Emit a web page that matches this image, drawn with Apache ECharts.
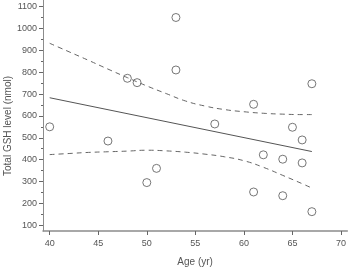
<!DOCTYPE html>
<html>
<head>
<meta charset="utf-8">
<script src="https://cdn.jsdelivr.net/npm/echarts@6/dist/echarts.min.js"></script>
<style>html,body{margin:0;padding:0;background:#fff}#c{width:349px;height:272px}</style>
</head>
<body>
<div id="c"></div>
<script>
// Data
const ages = [40, 46, 48, 49, 50, 51, 53, 53, 57, 61, 61, 62, 64, 64, 65, 66, 66, 67, 67];
const gsh  = [550, 485, 772, 752, 295, 360, 1050, 810, 563, 653, 252, 422, 402, 235, 548, 490, 385, 747, 162];

const regAge = [40, 67];
const regVal = [683, 437];

const bandAge   = [40, 42, 44, 46, 48, 50, 52, 54, 56, 58, 60, 62, 64, 66, 67];
const upperBand = [932, 893, 854, 814, 775, 737, 702, 668, 645, 629, 619, 612, 608, 606, 606];
const lowerBand = [423, 428, 433, 436, 439, 443, 440, 434, 425, 413, 395, 365, 328, 290, 270];

const xTicks = [40, 45, 50, 55, 60, 65, 70];
const yTicks = [100, 200, 300, 400, 500, 600, 700, 800, 900, 1000, 1100];
const yMinorTicks = [150, 250, 350, 450, 550, 650, 750, 850, 950, 1050];

const xName = 'Age (yr)';
const yName = 'Total GSH level (nmol)';

const zip = (a, b) => a.map((v, i) => [v, b[i]]);

const axisColor = '#8c8c8c';
const textColor = '#555';
const font = 'Liberation Sans, Arial, sans-serif';

const chart = echarts.init(document.getElementById('c'), null, {renderer: 'canvas'});
chart.setOption({
  animation: false,
  backgroundColor: '#fff',
  grid: {left: 43, top: 0, width: 306, height: 239.3, containLabel: false},
  xAxis: {
    type: 'value', min: 39.31, max: 70.65,
    splitLine: {show: false},
    axisLine: {lineStyle: {color: axisColor, width: 1.5}},
    axisTick: {customValues: xTicks, length: 4, lineStyle: {color: '#666'}},
    axisLabel: {customValues: xTicks, formatter: v => String(v), color: textColor, fontSize: 9, fontFamily: font, margin: 8},
    name: xName, nameLocation: 'middle', nameGap: 26,
    nameTextStyle: {color: textColor, fontSize: 10, fontFamily: font}
  },
  yAxis: [{
    type: 'value', min: 73.6, max: 1130,
    splitLine: {show: false},
    axisLine: {show: true, lineStyle: {color: axisColor, width: 1}},
    axisTick: {show: true, customValues: yTicks, length: 4, lineStyle: {color: '#666'}},
    axisLabel: {customValues: yTicks, formatter: v => String(v), color: textColor, fontSize: 9, fontFamily: font, margin: 6}
  }, {
    type: 'value', min: 73.6, max: 1130, position: 'left',
    splitLine: {show: false},
    axisLine: {show: false},
    axisTick: {show: true, customValues: yMinorTicks, length: 2, lineStyle: {color: '#666'}},
    axisLabel: {show: false}
  }],
  graphic: [{
    type: 'text', x: 8, y: 126, rotation: Math.PI / 2,
    style: {text: yName, fill: textColor, font: '10px ' + font, align: 'center', verticalAlign: 'middle'}
  }],
  series: [
    {
      type: 'line', data: zip(regAge, regVal), symbol: 'none',
      lineStyle: {color: '#555', width: 1}
    },
    {
      type: 'line', data: zip(bandAge, upperBand), symbol: 'none', smooth: true,
      lineStyle: {color: '#666', width: 1, type: [5, 4]}
    },
    {
      type: 'line', data: zip(bandAge, lowerBand), symbol: 'none', smooth: true,
      lineStyle: {color: '#666', width: 1, type: [5, 4]}
    },
    {
      type: 'scatter', data: zip(ages, gsh), symbol: 'circle', symbolSize: 8,
      itemStyle: {color: 'rgba(255,255,255,0)', borderColor: '#555', borderWidth: 1}
    }
  ]
});
</script>
</body>
</html>
